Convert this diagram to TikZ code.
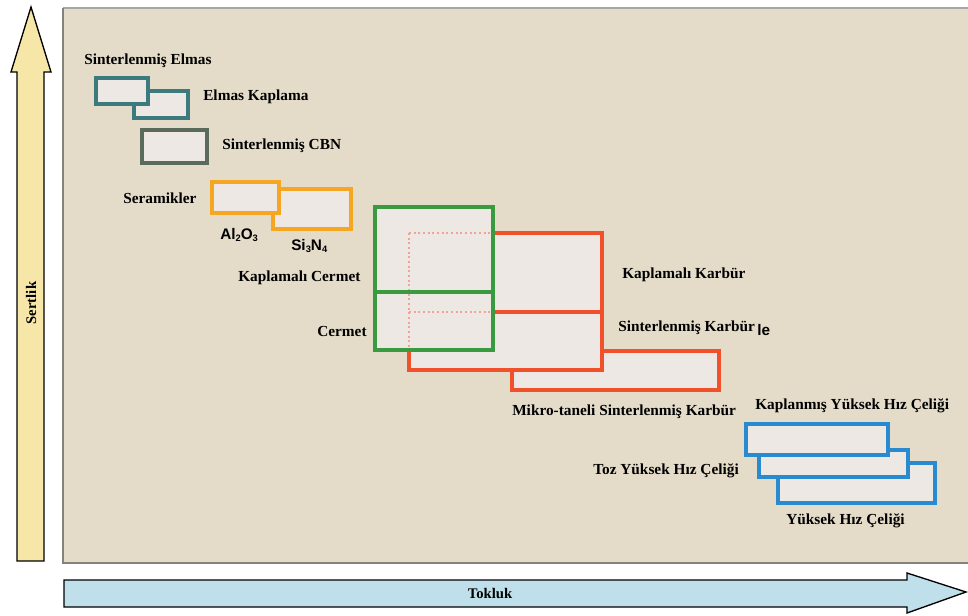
\documentclass[tikz,border=0pt]{standalone}
\usepackage{fontspec}
\setmainfont{Liberation Serif}
\setsansfont{Liberation Sans}
\definecolor{panelfill}{HTML}{E4DCC9}
\definecolor{panelline}{HTML}{85817B}
\definecolor{boxfill}{HTML}{EDE8E3}
\definecolor{teal}{HTML}{3C7A7E}
\definecolor{cbn}{HTML}{5A6B5C}
\definecolor{orng}{HTML}{F5A623}
\definecolor{grn}{HTML}{3A9A3F}
\definecolor{rd}{HTML}{F0502A}
\definecolor{rdlight}{HTML}{F2A493}
\definecolor{blu}{HTML}{2A8AD0}
\definecolor{yel}{HTML}{F6E7A9}
\definecolor{lblue}{HTML}{BFE0EA}
\tikzset{
  bx/.style={fill=boxfill, line width=2.3pt},
  lbl/.style={font=\bfseries\fontsize{11.5}{13}\selectfont, anchor=west, inner sep=0pt, text height=0.7em, text depth=0.2em},
  chem/.style={font=\sffamily\bfseries\fontsize{11.5}{13}\selectfont, anchor=west, inner sep=0pt},
  axlbl/.style={font=\bfseries\fontsize{11}{12}\selectfont, inner sep=0pt}
}
\newcommand{\sbs}[1]{\raisebox{-0.15ex}{\fontsize{7}{8}\selectfont #1}}
\begin{document}
\begin{tikzpicture}[x=0.75pt,y=-0.75pt]
\useasboundingbox (0,0) rectangle (968,615);
% panel
\fill[panelfill] (63,8) rectangle (975,563);
\draw[panelline!70, line width=1.2pt] (63,8) -- (975,8);
\draw[panelline, line width=2.2pt] (63,8) -- (63,563) -- (975,563);
% axes arrows
\draw[fill=yel, line width=1pt] (17,561) -- (17,72) -- (11,72) -- (31,7) -- (51,72) -- (44,72) -- (44,561) -- cycle;
\node[axlbl, rotate=90] (sertlik) at (31,303) {Sertlik};
\draw[fill=lblue, line width=1pt] (64,580) -- (907,580) -- (907,573) -- (966,592) -- (907,613) -- (907,607) -- (64,607) -- cycle;
\node[axlbl] (tokluk) at (490,593) {Tokluk};
% teal
\draw[bx, draw=teal] (134,91) rectangle (188,118);
\draw[bx, draw=teal] (96,78) rectangle (148,104);
\node[lbl] (selmas) at (84,61) {Sinterlenmiş Elmas};
\node[lbl] (ekap) at (203,97) {Elmas Kaplama};
% cbn
\draw[bx, draw=cbn] (142,130) rectangle (207,163);
\node[lbl] (scbn) at (222,146) {Sinterlenmiş CBN};
% orange
\draw[bx, draw=orng] (273,189) rectangle (351,229);
\draw[bx, draw=orng] (212,182) rectangle (279,213);
\node[lbl] (seram) at (123,200) {Seramikler};
\node[chem] (al) at (220,235) {Al\sbs{2}O\sbs{3}};
\node[chem] (si) at (291,246) {Si\sbs{3}N\sbs{4}};
% red
\draw[bx, draw=rd] (512,351) rectangle (719,390);
\draw[bx, draw=rd] (409,233) rectangle (602,370);
\draw[rd, line width=2.3pt] (409,312) -- (602,312);
% green fill
\fill[boxfill] (375,207) rectangle (493,350);
\draw[rdlight, line width=1.5pt, dotted] (409,233) -- (493,233);
\draw[rdlight, line width=1.5pt, dotted] (409,312) -- (493,312);
\draw[rdlight, line width=1.5pt, dotted] (409,233) -- (409,350);
\draw[grn, line width=2.3pt] (375,207) rectangle (493,350);
\draw[grn, line width=2.3pt] (375,292) -- (493,292);
\node[lbl] (kcermet) at (238,278) {Kaplamalı Cermet};
\node[lbl] (cermet) at (317,333) {Cermet};
\node[lbl] (kkarbur) at (622,275) {Kaplamalı Karbür};
\node[lbl] (skarbur) at (618,328) {Sinterlenmiş Karbür};
\node[chem] (le) at (757,330) {le};
\node[lbl] (mikro) at (512,412) {Mikro-taneli Sinterlenmiş Karbür};
% blue
\draw[bx, draw=blu] (778,463) rectangle (935,503);
\draw[bx, draw=blu] (759,450) rectangle (908,477);
\draw[bx, draw=blu] (746,424) rectangle (888,455);
\node[lbl] (kyhc) at (755,406) {Kaplanmış Yüksek Hız Çeliği};
\node[lbl] (tyhc) at (593,471) {Toz Yüksek Hız Çeliği};
\node[lbl] (yhc) at (786,521) {Yüksek Hız Çeliği};
\end{tikzpicture}
\end{document}
